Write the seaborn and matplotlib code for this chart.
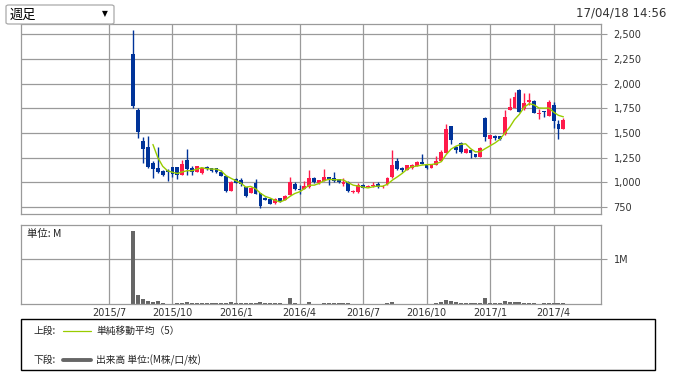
import numpy as np
import pandas as pd
import matplotlib
matplotlib.use("Agg")
import matplotlib.pyplot as plt
from matplotlib.patches import Rectangle, FancyBboxPatch
from matplotlib.lines import Line2D
import seaborn as sns

# ---------------- data ----------------
start_week = "2015-08-10"
opens = [2300, 1735, 1420, 1360, 1200, 1147, 1117, 1123, 1157, 1157,
         1079, 1228, 1144, 1110, 1096, 1157, 1144, 1144, 1110, 1062,
         917, 1036, 1022, 951, 897, 995, 890, 843, 833, 789,
         840, 823, 874, 988, 934, 934, 951, 1049, 992, 1015,
         1052, 1049, 1036, 985, 1009, 901, 901, 975, 955, 961,
         982, 951, 982, 1052, 1218, 1150, 1130, 1144, 1170, 1211,
         1177, 1150, 1177, 1218, 1302, 1572, 1360, 1400, 1302, 1329,
         1285, 1262, 1656, 1441, 1474, 1471, 1488, 1734, 1758, 1937,
         1741, 1812, 1825, 1697, 1724, 1673, 1785, 1592, 1542]
highs = [2545, 1750, 1460, 1470, 1215, 1356, 1125, 1137, 1160, 1160,
         1228, 1339, 1170, 1167, 1150, 1163, 1147, 1147, 1127, 1065,
         1012, 1046, 1046, 955, 952, 1036, 895, 850, 840, 840,
         846, 870, 1059, 1000, 975, 1019, 1127, 1059, 1030, 1137,
         1056, 1110, 1040, 1042, 1012, 920, 992, 980, 975, 1009,
         1002, 972, 1052, 1329, 1252, 1155, 1180, 1182, 1218, 1289,
         1180, 1190, 1268, 1329, 1592, 1575, 1365, 1410, 1345, 1335,
         1290, 1360, 1660, 1485, 1480, 1475, 1734, 1859, 1920, 1943,
         1903, 1903, 1830, 1741, 1724, 1835, 1818, 1633, 1650]
lows = [1758, 1455, 1195, 1150, 1050, 1093, 1066, 1019, 1059, 1036,
        1075, 1079, 1079, 1105, 1090, 1130, 1110, 1096, 1066, 907,
        914, 990, 965, 850, 894, 884, 739, 820, 780, 780,
        800, 820, 870, 927, 881, 930, 945, 995, 988, 1010,
        975, 1009, 995, 968, 901, 897, 897, 944, 950, 958,
        948, 948, 978, 1049, 1130, 1110, 1127, 1140, 1167, 1184,
        1137, 1147, 1172, 1214, 1298, 1387, 1302, 1295, 1298, 1252,
        1258, 1258, 1420, 1390, 1430, 1430, 1485, 1730, 1755, 1714,
        1737, 1785, 1700, 1643, 1667, 1670, 1555, 1444, 1538]
closes = [1770, 1515, 1340, 1160, 1137, 1107, 1076, 1110, 1086, 1076,
          1187, 1137, 1110, 1167, 1150, 1134, 1117, 1107, 1069, 914,
          1002, 995, 988, 867, 948, 887, 766, 827, 783, 833,
          806, 864, 1002, 934, 921, 965, 1042, 1002, 1022, 1056,
          1039, 1019, 1002, 1009, 917, 917, 975, 948, 968, 975,
          951, 968, 1049, 1177, 1137, 1127, 1177, 1177, 1211, 1187,
          1150, 1184, 1218, 1312, 1542, 1430, 1333, 1312, 1339, 1302,
          1262, 1346, 1464, 1481, 1447, 1441, 1660, 1764, 1869, 1717,
          1805, 1832, 1707, 1707, 1710, 1812, 1626, 1542, 1633]
volume_m = [1.63, 0.21, 0.12, 0.075, 0.04, 0.075, 0.012, 0.01, 0.01, 0.012,
            0.025, 0.05, 0.012, 0.025, 0.03, 0.025, 0.012, 0.015, 0.012, 0.03,
            0.05, 0.015, 0.03, 0.012, 0.02, 0.012, 0.035, 0.012, 0.025, 0.012,
            0.015, 0.01, 0.13, 0.03, 0.01, 0.01, 0.05, 0.01, 0.01, 0.03,
            0.012, 0.012, 0.012, 0.012, 0.03, 0.01, 0.01, 0.01, 0.01, 0.01,
            0.01, 0.01, 0.012, 0.05, 0.01, 0.01, 0.01, 0.01, 0.01, 0.01,
            0.01, 0.01, 0.012, 0.04, 0.10, 0.075, 0.035, 0.012, 0.012, 0.012,
            0.012, 0.012, 0.13, 0.012, 0.015, 0.015, 0.075, 0.04, 0.035, 0.05,
            0.012, 0.012, 0.03, 0.01, 0.012, 0.03, 0.03, 0.02, 0.025]
quarter_labels = ["2015/7", "2015/10", "2016/1", "2016/4",
                  "2016/7", "2016/10", "2017/1", "2017/4"]
price_ticks = [750, 1000, 1250, 1500, 1750, 2000, 2250, 2500]

# ---------------- frame ----------------
n = len(closes)
idx = np.arange(n)
dates = pd.date_range(start_week, periods=n, freq="7D")
df = pd.DataFrame({"i": idx, "date": dates, "open": opens, "high": highs,
                   "low": lows, "close": closes, "vol": volume_m})
df["ma5"] = df["close"].rolling(5).mean()

start = pd.Timestamp(start_week)
tick_pos = []
for lab in quarter_labels:
    y, m = map(int, lab.split("/"))
    d = pd.Timestamp(y, m, 1)
    d = d + pd.Timedelta(days=(7 - d.weekday()) % 7)
    tick_pos.append((d - start).days / 7)

sns.set_style("white")
plt.rcParams["font.family"] = ["DejaVu Sans", "Noto Sans CJK JP"]
CJK = ["Noto Sans CJK JP", "DejaVu Sans"]

W, H = 677, 373
fig = plt.figure(figsize=(W / 100, H / 100), dpi=100)
fig.patch.set_facecolor("white")


def rect(l, t, r, b):
    return [l / W, 1 - b / H, (r - l) / W, (b - t) / H]


def fx(x):
    return x / W


def fy(y):
    return 1 - y / H


GRID = "#9a9a9a"
BLUE = "#003399"
RED = "#ff1a4a"
TXT = "#333333"

ax1 = fig.add_axes(rect(21, 24, 601, 214))
ax2 = fig.add_axes(rect(21, 225, 601, 304))

XL = (-23.0, 95.7)

# ---- upper: candles + MA ----
up = df["close"] >= df["open"]
cols = np.where(up, RED, BLUE)
body_bot = np.minimum(df["open"], df["close"])
body_h = np.maximum(np.abs(df["close"] - df["open"]), 7)
ax1.vlines(df["i"], df["low"], df["high"], colors=cols, lw=1.0, zorder=3)
ax1.bar(df["i"], body_h, bottom=body_bot, width=0.78, color=cols,
        linewidth=0, zorder=4)
sns.lineplot(data=df.dropna(subset=["ma5"]), x="i", y="ma5", ax=ax1,
             color="#99cc00", lw=1.0, zorder=5)

ax1.set_xlim(*XL)
ax1.set_ylim(681, 2604)
ax1.set_xticks(tick_pos)
ax1.set_xticklabels([])
ax1.set_yticks(price_ticks)
ax1.set_yticklabels([f"{v:,}" for v in price_ticks])
ax1.yaxis.tick_right()
ax1.tick_params(axis="x", length=0)
ax1.tick_params(axis="y", length=4, width=0.8, color=GRID, labelsize=7,
                pad=5, labelcolor=TXT)
ax1.grid(True, color=GRID, lw=0.9)
ax1.set_axisbelow(True)
ax1.set_xlabel("")
ax1.set_ylabel("")

# ---- lower: volume ----
sns.barplot(data=df, x="i", y="vol", native_scale=True, width=0.82,
            color="#666666", saturation=1, linewidth=0, errorbar=None, ax=ax2)
ax2.set_xlim(*XL)
ax2.set_ylim(0, 1.756)
ax2.set_xticks(tick_pos)
ax2.set_xticklabels(quarter_labels)
ax2.set_yticks([1.0])
ax2.set_yticklabels(["1M"])
ax2.yaxis.tick_right()
ax2.tick_params(axis="x", length=0, labelsize=7, pad=3, labelcolor=TXT)
ax2.tick_params(axis="y", length=4, width=0.8, color=GRID, labelsize=7,
                pad=5, labelcolor=TXT)
ax2.grid(True, color=GRID, lw=0.9)
ax2.set_axisbelow(True)
ax2.set_xlabel("")
ax2.set_ylabel("")
ax2.text(fx(27), fy(234), "単位: M", transform=fig.transFigure, fontsize=7.5,
         family=CJK, va="center", ha="left", color="#222222")

for ax in (ax1, ax2):
    for s in ax.spines.values():
        s.set_color(GRID)
        s.set_linewidth(0.9)

# ---- legend box ----
fig.patches.append(Rectangle((fx(21), fy(370)), fx(655) - fx(21),
                             fy(319) - fy(370), transform=fig.transFigure,
                             fill=False, edgecolor="black", lw=1.0))
fig.lines.append(Line2D([fx(63), fx(91)], [fy(331), fy(331)],
                        transform=fig.transFigure, color="#99cc00", lw=0.9))
fig.lines.append(Line2D([fx(63), fx(91)], [fy(360), fy(360)],
                        transform=fig.transFigure, color="#666666", lw=2.8))
LFS = 7.0
fig.text(fx(33), fy(331), "上段:", fontsize=LFS, family=CJK, va="center",
         color="#222222")
fig.text(fx(96), fy(331), "単純移動平均（5）", fontsize=LFS, family=CJK,
         va="center", color="#222222")
fig.text(fx(33), fy(360), "下段:", fontsize=LFS, family=CJK, va="center",
         color="#222222")
fig.text(fx(96), fy(360), "出来高 単位:(M株/口/枚)", fontsize=LFS, family=CJK,
         va="center", color="#222222")

# ---- header ----
fig.patches.append(FancyBboxPatch((fx(6), fy(24)), fx(114) - fx(6),
                                  fy(5) - fy(24), transform=fig.transFigure,
                                  boxstyle="round,pad=0,rounding_size=0.004",
                                  facecolor="white", edgecolor="#aaaaaa",
                                  lw=0.9, zorder=10))
fig.text(fx(10), fy(15), "週足", fontsize=9.5, family=CJK, va="center",
         ha="left", color="black", zorder=11)
fig.text(fx(105), fy(13.5), "▼", fontsize=5.5, va="center", ha="center",
         color="black", zorder=11)
fig.text(fx(666), fy(12.5), "17/04/18 14:56", fontsize=8.5, va="center",
         ha="right", color=TXT)

fig.savefig("out.png", dpi=100, facecolor="white")
